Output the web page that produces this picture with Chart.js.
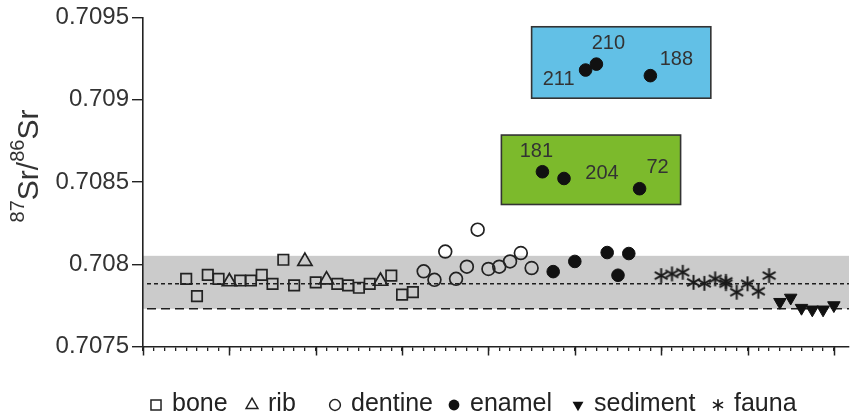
<!DOCTYPE html>
<html>
<head>
<meta charset="utf-8">
<script src="https://cdn.jsdelivr.net/npm/chart.js@4.4.1/dist/chart.umd.min.js"></script>
<style>
  html, body { margin: 0; padding: 0; background: #fff; }
  #wrap { width: 850px; height: 417px; }
</style>
</head>
<body>
<div id="wrap"><canvas id="c" width="850" height="417"></canvas></div>
<script>
// Sample positions along the sequence (x) and 87Sr/86Sr ratios (y)
const boneX = [4, 5, 6, 7, 9, 10, 11, 12, 13, 14, 16, 18, 19, 20, 21, 23, 24, 25];
const boneY = [0.707911, 0.707806, 0.707935, 0.707911, 0.707901, 0.707901, 0.707935, 0.707881, 0.708027,
               0.707871, 0.707890, 0.707881, 0.707871, 0.707857, 0.707881, 0.707931, 0.707815, 0.707830];
const ribX = [8, 15, 17, 22];
const ribY = [0.707894, 0.708018, 0.707905, 0.707897];
const dentineX = [26, 27, 28, 29, 30, 31, 32, 33, 34, 35, 36];
const dentineY = [0.707957, 0.707905, 0.708077, 0.707911, 0.707985, 0.708210, 0.707971, 0.707985, 0.708017, 0.708068, 0.707977];
const enamelX = [37, 38, 39, 40, 41, 42, 43, 44, 45, 46, 47];
const enamelY = [0.708562, 0.707955, 0.708521, 0.708017, 0.709180, 0.709216, 0.708071, 0.707933, 0.708065, 0.708459, 0.709146];
const enamelIds = ['181', '', '204', '', '211', '210', '', '', '', '72', '188'];
const faunaX = [48, 49, 50, 51, 52, 53, 54, 54, 55, 56, 57, 58];
const faunaY = [0.707931, 0.707941, 0.707951, 0.707890, 0.707884, 0.707911, 0.707896, 0.707882, 0.707830, 0.707881, 0.707836, 0.707931];
const sedimentX = [59, 60, 61, 62, 63, 64];
const sedimentY = [0.707770, 0.707796, 0.707734, 0.707724, 0.707724, 0.707750];
const seriesNames = ['bone', 'rib', 'dentine', 'enamel', 'sediment', 'fauna'];

// Axis ranges and tick labels
const yTickValues = [0.7075, 0.708, 0.7085, 0.709, 0.7095];
const yTickLabels = ['0.7075', '0.708', '0.7085', '0.709', '0.7095'];
const xRange = [0, 65.4];
const xLastTick = 64;
const xMajorStep = 8;

// Local baseline band and reference levels
const bandRange = [0.707729, 0.708051];
const meanLevel = 0.707881;
const lowLevel = 0.707729;

// Highlighted sample groups: [xFrom, xTo, yFrom, yTo]
const groupBlue = [36.0, 52.6, 0.709009, 0.709443];
const groupGreen = [33.2, 49.8, 0.708363, 0.708785];

// ---- styling ----
const FONT = '"Liberation Sans", Arial, Helvetica, sans-serif';
const INK = '#222222';
const TEXT = '#333333';
// where each sample id sits relative to its dot (px)
const idOffsets = { '181': [-6, -20], '204': [38, -5], '211': [-27, 9], '210': [12, -21], '72': [18, -21], '188': [26, -16] };
// legend symbol centres (px) and vertical position
const legendCx = [156, 252, 335, 454, 578, 718];
const legendY = 404;
const titleCentreY = 166;

function pts(xs, ys) { return xs.map((v, i) => ({ x: v, y: ys[i] })); }

function asterisk(r, lw) {
  const s = Math.ceil(2 * r + lw + 2);
  const c = document.createElement('canvas');
  c.width = s; c.height = s;
  const g = c.getContext('2d');
  g.strokeStyle = '#1a1a1a'; g.lineWidth = lw;
  const m = s / 2;
  [90, 30, 150].forEach(a => {
    const t = a * Math.PI / 180;
    g.beginPath();
    g.moveTo(m - r * Math.cos(t), m - r * Math.sin(t));
    g.lineTo(m + r * Math.cos(t), m + r * Math.sin(t));
    g.stroke();
  });
  return c;
}
const starMark = asterisk(7.4, 2);
const starLegend = asterisk(5.8, 1.6);

const hollow = 'rgba(0,0,0,0)';
const datasets = [
  { label: seriesNames[0], data: pts(boneX, boneY), pointStyle: 'rect', pointRadius: 7.4,
    pointBackgroundColor: hollow, pointBorderColor: INK, pointBorderWidth: 1.7 },
  { label: seriesNames[1], data: pts(ribX, ribY), pointStyle: 'triangle', pointRadius: 8.2,
    pointBackgroundColor: hollow, pointBorderColor: INK, pointBorderWidth: 1.7 },
  { label: seriesNames[2], data: pts(dentineX, dentineY), pointStyle: 'circle', pointRadius: 6.4,
    pointBackgroundColor: hollow, pointBorderColor: INK, pointBorderWidth: 1.7 },
  { label: seriesNames[3], data: pts(enamelX, enamelY), pointStyle: 'circle', pointRadius: 6.3,
    pointBackgroundColor: '#111', pointBorderColor: '#111', pointBorderWidth: 1 },
  { label: seriesNames[4], data: pts(sedimentX, sedimentY), pointStyle: 'triangle', pointRotation: 180, pointRadius: 7.2,
    pointBackgroundColor: '#111', pointBorderColor: '#111', pointBorderWidth: 1 },
  { label: seriesNames[5], data: pts(faunaX, faunaY), pointStyle: starMark, pointRadius: 7 }
];

const decor = {
  id: 'decor',
  beforeDraw(chart) {
    const { ctx, chartArea: a, scales: { y } } = chart;
    ctx.save();
    const yt = y.getPixelForValue(bandRange[1]);
    const yb = y.getPixelForValue(bandRange[0]);
    ctx.fillStyle = '#cbcbcb';
    ctx.fillRect(a.left, yt, a.right - a.left, yb - yt);
    ctx.strokeStyle = '#1e1e1e';
    ctx.lineWidth = 1.5;
    ctx.setLineDash([4, 3]);
    let yy = y.getPixelForValue(meanLevel);
    ctx.beginPath(); ctx.moveTo(a.left + 4, yy); ctx.lineTo(a.right, yy); ctx.stroke();
    ctx.setLineDash([9, 5]);
    yy = y.getPixelForValue(lowLevel);
    ctx.beginPath(); ctx.moveTo(a.left + 4, yy); ctx.lineTo(a.right, yy); ctx.stroke();
    ctx.restore();
  },
  beforeDatasetsDraw(chart) {
    const { ctx, scales: { x, y } } = chart;
    ctx.save();
    [[groupBlue, '#62c0e6'], [groupGreen, '#7cba2c']].forEach(([g, col]) => {
      const l = x.getPixelForValue(g[0]), r = x.getPixelForValue(g[1]);
      const t = y.getPixelForValue(g[3]), b = y.getPixelForValue(g[2]);
      ctx.fillStyle = col;
      ctx.fillRect(l, t, r - l, b - t);
      ctx.strokeStyle = '#333';
      ctx.lineWidth = 1.6;
      ctx.strokeRect(l, t, r - l, b - t);
    });
    ctx.restore();
  },
  afterDatasetsDraw(chart) {
    const { ctx } = chart;
    const meta = chart.getDatasetMeta(3);
    ctx.save();
    ctx.font = '20px ' + FONT;
    ctx.fillStyle = TEXT;
    ctx.textAlign = 'center';
    ctx.textBaseline = 'middle';
    enamelIds.forEach((id, i) => {
      if (!id) return;
      const p = meta.data[i];
      const o = idOffsets[id] || [0, -18];
      ctx.fillText(id, p.x + o[0], p.y + o[1]);
    });
    ctx.restore();
  },
  afterDraw(chart) {
    const { ctx, chartArea: a, scales: { x } } = chart;
    ctx.save();
    // longer marks at every major step of the x axis
    ctx.strokeStyle = INK;
    ctx.lineWidth = 1.5;
    for (let v = xRange[0]; v <= xLastTick; v += xMajorStep) {
      const px = Math.round(x.getPixelForValue(v)) + 0.5;
      ctx.beginPath(); ctx.moveTo(px, a.bottom); ctx.lineTo(px, a.bottom + 9); ctx.stroke();
    }
    // y axis title with superscript mass numbers
    const big = 30, small = 20;
    const parts = [['87', small, true], ['Sr/', big, false], ['86', small, true], ['Sr', big, false]];
    let total = 0;
    parts.forEach(p => { ctx.font = p[1] + 'px ' + FONT; total += ctx.measureText(p[0]).width; });
    ctx.translate(0, titleCentreY);
    ctx.rotate(-Math.PI / 2);
    ctx.fillStyle = TEXT;
    ctx.textBaseline = 'alphabetic';
    ctx.textAlign = 'left';
    let cx = -total / 2;
    parts.forEach(p => {
      ctx.font = p[1] + 'px ' + FONT;
      ctx.fillText(p[0], cx, p[2] ? 24 : 38);
      cx += ctx.measureText(p[0]).width;
    });
    ctx.setTransform(1, 0, 0, 1, 0, 0);
    // legend
    const styles = [
      { pointStyle: 'rect', radius: 7.1, fill: hollow, bw: 1.4 },
      { pointStyle: 'triangle', radius: 6.8, fill: hollow, bw: 1.4 },
      { pointStyle: 'circle', radius: 5.4, fill: hollow, bw: 1.4 },
      { pointStyle: 'circle', radius: 5.4, fill: '#111', bw: 0 },
      { pointStyle: 'triangle', radius: 6.3, rotation: 180, fill: '#111', bw: 0 },
      { pointStyle: starLegend, radius: 6, fill: hollow, bw: 0 }
    ];
    ctx.font = '25px ' + FONT;
    ctx.textBaseline = 'middle';
    seriesNames.forEach((name, i) => {
      const s = styles[i];
      ctx.fillStyle = s.fill;
      ctx.strokeStyle = INK;
      Chart.helpers.drawPoint(ctx, { pointStyle: s.pointStyle, rotation: s.rotation || 0, radius: s.radius, borderWidth: s.bw },
        legendCx[i], legendY + 1);
      ctx.fillStyle = '#222';
      ctx.fillText(name, legendCx[i] + 16, legendY);
    });
    ctx.restore();
  }
};

new Chart(document.getElementById('c'), {
  type: 'scatter',
  data: { datasets },
  options: {
    responsive: false,
    animation: false,
    events: [],
    layout: { autoPadding: false, padding: { top: 14.6, right: 1, bottom: 0, left: 0 } },
    plugins: { legend: { display: false }, tooltip: { enabled: false } },
    scales: {
      x: {
        type: 'linear',
        min: xRange[0],
        max: xRange[1],
        afterFit(s) { s.height = 70.5; },
        afterBuildTicks(s) {
          const t = [];
          for (let v = xRange[0]; v <= xLastTick; v++) t.push({ value: v });
          s.ticks = t;
        },
        ticks: { display: false, stepSize: 1 },
        grid: { drawOnChartArea: false, drawTicks: true, tickLength: 4.5, color: INK, lineWidth: 1.3 },
        border: { display: true, color: INK, width: 1.6 }
      },
      y: {
        type: 'linear',
        min: yTickValues[0],
        max: yTickValues[yTickValues.length - 1],
        afterFit(s) { s.width = 143; },
        afterBuildTicks(s) { s.ticks = yTickValues.map(v => ({ value: v })); },
        ticks: {
          padding: 3,
          color: TEXT,
          font: { family: FONT, size: 24 },
          callback: (v, i) => yTickLabels[i]
        },
        grid: { drawOnChartArea: false, drawTicks: true, tickLength: 11, color: INK, lineWidth: 1.4 },
        border: { display: true, color: INK, width: 1.6 }
      }
    }
  },
  plugins: [decor]
});
</script>
</body>
</html>
